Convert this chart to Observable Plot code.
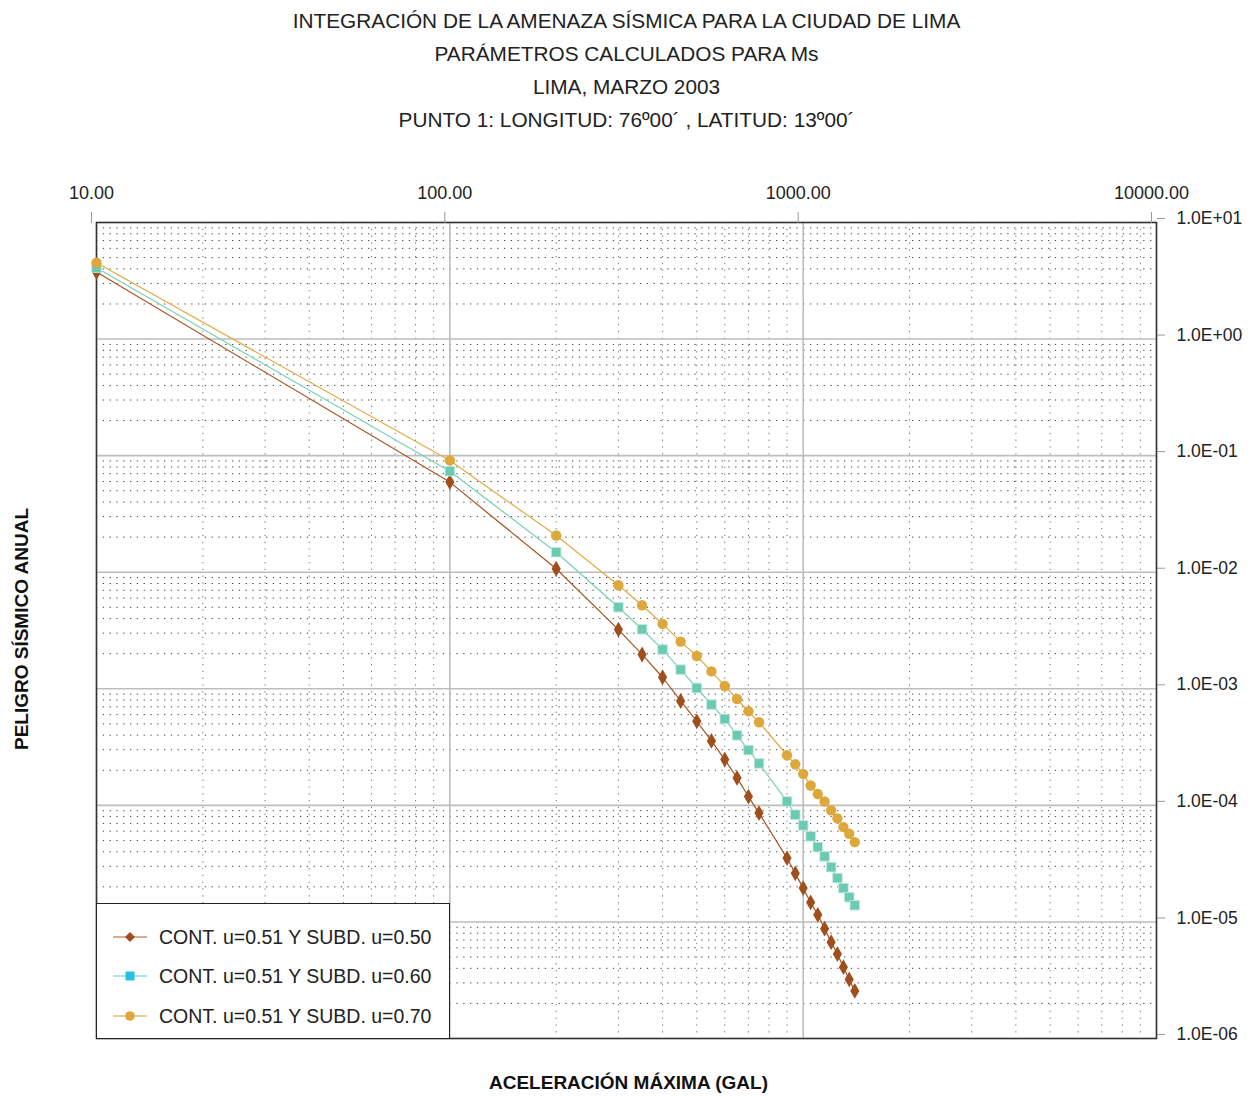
<!DOCTYPE html>
<html><head><meta charset="utf-8">
<script src="https://cdn.jsdelivr.net/npm/d3@7"></script>
<script src="https://cdn.jsdelivr.net/npm/@observablehq/plot@0.6"></script>
<style>
body{margin:0;background:#fff;font-family:"Liberation Sans",Arial,sans-serif;}
#wrap{position:relative;width:1253px;height:1096px;overflow:hidden;}
.t{position:absolute;left:0;width:1253px;text-align:center;font-size:20.8px;color:#222;line-height:24px;}
.ax{position:absolute;font-weight:bold;font-size:19px;color:#111;white-space:nowrap;}
#legend{position:absolute;left:96px;top:903px;width:352px;height:134px;border:1.5px solid #222;background:#fff;}
.lrow{position:absolute;left:16px;height:30px;display:flex;align-items:center;font-size:19.5px;color:#222;white-space:nowrap;}
.lrow svg{margin-right:12px;}
</style></head><body><div id="wrap"></div>
<script>
const titleLines = [
  "INTEGRACIÓN DE LA AMENAZA SÍSMICA PARA LA CIUDAD DE LIMA",
  "PARÁMETROS CALCULADOS PARA Ms",
  "LIMA, MARZO 2003",
  "PUNTO 1: LONGITUD: 76º00´ , LATITUD: 13º00´"
];
const xAxisTitle = "ACELERACIÓN MÁXIMA (GAL)";
const yAxisTitle = "PELIGRO SÍSMICO ANUAL";
const xTicks = [10, 100, 1000, 10000];
const xTickLabels = ["10.00", "100.00", "1000.00", "10000.00"];
const yTicks = [10, 1, 0.1, 0.01, 0.001, 0.0001, 0.00001, 0.000001];
const yTickLabels = ["1.0E+01","1.0E+00","1.0E-01","1.0E-02","1.0E-03","1.0E-04","1.0E-05","1.0E-06"];
const seriesNames = ["CONT. u=0.51 Y SUBD. u=0.50","CONT. u=0.51 Y SUBD. u=0.60","CONT. u=0.51 Y SUBD. u=0.70"];
const accel = [10,100,200,300,350,400,450,500,550,600,650,700,750,900,950,1000,1050,1100,1150,1200,1250,1300,1350,1400];
const hazard050 = [3.76,0.0593,0.0107,0.00322,0.00197,0.001256,0.000786,0.000526,0.000357,0.000247,0.000172,0.000119,8.59e-5,3.53e-5,2.61e-5,1.95e-5,1.47e-5,1.15e-5,8.75e-6,6.71e-6,5.30e-6,4.09e-6,3.21e-6,2.56e-6];
const hazard060 = [4.09,0.0736,0.01485,0.00501,0.00324,0.00217,0.00146,0.001016,0.000731,0.000551,0.000399,0.000298,0.000229,1.08e-4,8.31e-5,6.73e-5,5.42e-5,4.39e-5,3.65e-5,2.95e-5,2.38e-5,1.95e-5,1.63e-5,1.39e-5];
const hazard070 = [4.52,0.0910,0.02065,0.00773,0.00521,0.00360,0.00254,0.00191,0.00141,0.001057,0.000817,0.000641,0.000516,0.000269,0.000225,0.000186,1.48e-4,1.25e-4,1.08e-4,9.06e-5,7.73e-5,6.51e-5,5.71e-5,4.84e-5];

const rows = (h) => accel.map((x, i) => ({x, y: h[i]}));
const s1 = rows(hazard050), s2 = rows(hazard060), s3 = rows(hazard070);

// minor grid positions (2..9 within each decade)
const minorX = [], minorY = [];
for (const d of [10, 100, 1000]) for (let k = 2; k <= 9; k++) minorX.push(k * d);
for (const d of [1e-6, 1e-5, 1e-4, 1e-3, 1e-2, 1e-1, 1]) for (let k = 2; k <= 9; k++) minorY.push(k * d);

const chart = Plot.plot({
  width: 1253, height: 1096,
  marginTop: 222, marginBottom: 58, marginLeft: 96, marginRight: 97,
  style: {fontFamily: '"Liberation Sans", Arial, sans-serif', background: "#fff", overflow: "visible"},
  x: {type: "log", domain: [10, 10000]},
  y: {type: "log", domain: [1e-6, 10]},
  marks: [
    Plot.ruleX(minorX, {stroke: "#777", strokeWidth: 1, strokeDasharray: "1.3,5.5"}),
    Plot.ruleY(minorY, {stroke: "#444", strokeWidth: 1, strokeDasharray: "1.3,5.5"}),
    Plot.ruleX(xTicks, {stroke: "#bdbdbd", strokeWidth: 1.6}),
    Plot.ruleY(yTicks, {stroke: "#bdbdbd", strokeWidth: 1.6}),
    Plot.frame({stroke: "#333", strokeWidth: 1.5}),
    Plot.axisX(xTicks, {anchor: "top", tickSize: 11, tickPadding: 13, stroke: "#999", fill: "#222", fontSize: 18, dx: -5,
      tickFormat: d => xTickLabels[xTicks.indexOf(d)], label: null}),
    Plot.axisY(yTicks, {anchor: "right", tickSize: 8, tickPadding: 12, stroke: "#999", fill: "#222", fontSize: 17.5, dy: -4,
      tickFormat: d => yTickLabels[yTicks.indexOf(d)], label: null}),
    Plot.line(s1, {x: "x", y: "y", stroke: "#a65523", strokeWidth: 1.2}),
    Plot.line(s2, {x: "x", y: "y", stroke: "#76d0b9", strokeWidth: 1.2}),
    Plot.line(s3, {x: "x", y: "y", stroke: "#e0ab45", strokeWidth: 1.2}),
    Plot.dot(s1, {x: "x", y: "y", symbol: "diamond", r: 4.8, fill: "#a04e1c"}),
    Plot.dot(s2, {x: "x", y: "y", symbol: "square", r: 5.4, fill: "#6ccab2", stroke: "#c2ece1", strokeWidth: 0.8}),
    Plot.dot(s3, {x: "x", y: "y", symbol: "circle", r: 5.2, fill: "#dea73b"})
  ]
});

const wrap = document.getElementById("wrap");
wrap.appendChild(chart);
chart.style.position = "absolute"; chart.style.left = "0"; chart.style.top = "0";

const titleY = [9, 42, 75, 108];
titleLines.forEach((t, i) => {
  const d = document.createElement("div");
  d.className = "t"; d.style.top = titleY[i] + "px"; d.textContent = t;
  wrap.appendChild(d);
});

const xt = document.createElement("div");
xt.className = "ax"; xt.textContent = xAxisTitle;
xt.style.left = "0"; xt.style.width = "1253px"; xt.style.textAlign = "center"; xt.style.top = "1072px";
xt.style.paddingLeft = "2px";
wrap.appendChild(xt);

const yt = document.createElement("div");
yt.className = "ax"; yt.textContent = yAxisTitle;
yt.style.left = "22px"; yt.style.top = "629px";
yt.style.transform = "translate(-50%,-50%) rotate(-90deg)";
wrap.appendChild(yt);

// legend
const legend = document.createElement("div");
legend.id = "legend";
const legendStyles = [
  {line: "#c9956f", fill: "#a04e1c", shape: "diamond"},
  {line: "#8fdcf0", fill: "#2bbfe6", shape: "square"},
  {line: "#e8bd6e", fill: "#dea73b", shape: "circle"}
];
const rowTops = [18, 57, 97];
seriesNames.forEach((name, i) => {
  const st = legendStyles[i];
  const r = document.createElement("div");
  r.className = "lrow"; r.style.top = rowTops[i] + "px";
  let marker;
  if (st.shape === "diamond") marker = `<path d="M17,10 L22,15 L17,20 L12,15 Z" fill="${st.fill}"/>`;
  else if (st.shape === "square") marker = `<rect x="12.5" y="10.5" width="9" height="9" fill="${st.fill}"/>`;
  else marker = `<circle cx="17" cy="15" r="4.8" fill="${st.fill}"/>`;
  r.innerHTML = `<svg width="34" height="30"><line x1="0" y1="15" x2="34" y2="15" stroke="${st.line}" stroke-width="1.5"/>${marker}</svg><span>${name}</span>`;
  legend.appendChild(r);
});
wrap.appendChild(legend);
</script>
</body></html>
